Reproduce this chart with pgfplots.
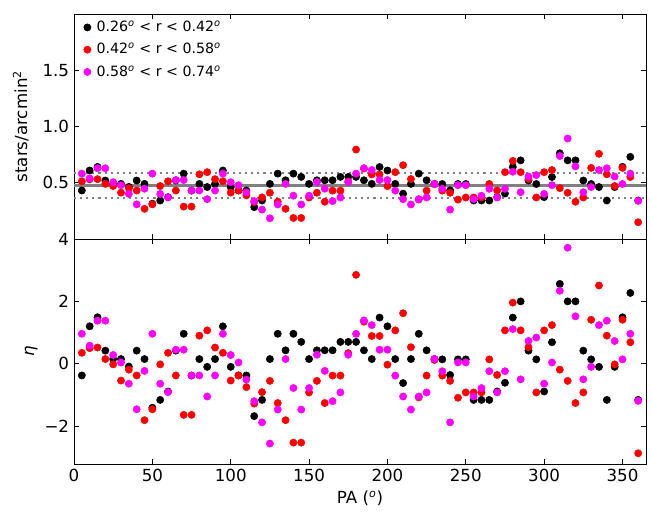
\documentclass[border=0pt]{standalone}
\usepackage{fontspec}
\setmainfont{DejaVu Sans}
\usepackage{pgfplots}
\pgfplotsset{compat=1.18}
\usepackage{pgfplotstable}
\definecolor{mgray}{RGB}{128,128,128}
\definecolor{mmag}{RGB}{255,0,255}
\definecolor{mred}{RGB}{255,0,0}
\pgfplotstableread{
pa eb er em db dr dm
5 -0.375 0.35 0.96 0.431 0.513 0.581
10 1.2 0.5 0.58 0.609 0.530 0.539
15 1.49 0.52 1.38 0.641 0.532 0.629
20 0.42 0.15 1.38 0.520 0.490 0.629
25 0.15 -0.02 0.28 0.490 0.471 0.505
30 0.15 -0.54 0.04 0.490 0.412 0.478
35 -0.09 -0.19 -0.64 0.463 0.452 0.401
40 0.42 -0.375 -1.46 0.520 0.431 0.308
45 0.15 -1.81 -0.23 0.490 0.268 0.447
50 -1.41 -1.46 0.96 0.314 0.308 0.581
55 -1.16 -0.02 -0.64 0.342 0.471 0.401
60 -0.89 0.35 -0.91 0.372 0.513 0.370
65 0.42 -0.375 0.45 0.520 0.431 0.524
70 0.96 -1.64 0.45 0.581 0.288 0.524
75 -0.38 -1.64 -0.375 0.430 0.288 0.431
80 0.15 0.9 -0.375 0.490 0.575 0.431
85 -0.1 1.07 -1.05 0.462 0.594 0.354
90 0.15 0.52 -0.375 0.490 0.532 0.431
95 1.2 0.35 0.96 0.609 0.513 0.581
100 -0.1 -0.54 0.28 0.462 0.412 0.505
105 -0.375 -0.375 0.04 0.431 0.431 0.478
110 -0.375 -0.75 -0.51 0.431 0.388 0.415
115 -1.68 -1.28 -1.2 0.283 0.328 0.337
120 -1.16 -0.91 -1.88 0.342 0.370 0.261
125 0.15 -0.55 -2.56 0.490 0.411 0.184
130 0.96 -1.26 -1.47 0.581 0.331 0.307
135 0.43 -1.81 0.15 0.522 0.268 0.490
140 0.96 -2.53 -0.78 0.581 0.187 0.385
145 0.7 -2.53 -1.47 0.552 0.187 0.307
150 0.15 -0.92 -0.78 0.490 0.369 0.385
155 0.43 -0.55 0.29 0.522 0.411 0.506
160 0.43 -1.26 -0.23 0.522 0.331 0.447
165 0.43 -0.38 -1.2 0.522 0.430 0.337
170 0.7 -0.38 -0.92 0.552 0.430 0.369
175 0.7 0.34 0.29 0.552 0.511 0.506
180 0.7 2.85 0.96 0.552 0.795 0.581
185 0.43 1.35 1.39 0.522 0.626 0.630
190 0.15 0.89 1.24 0.490 0.574 0.613
195 1.48 0.89 0.45 0.640 0.574 0.524
200 1.2 -0.03 0.45 0.609 0.470 0.524
205 0.15 1.07 -0.38 0.490 0.594 0.430
210 -0.62 1.62 -1.05 0.403 0.656 0.354
215 0.15 0.53 -1.47 0.490 0.533 0.307
220 0.96 -1.08 -1.05 0.581 0.351 0.354
225 0.43 -0.38 -0.92 0.522 0.430 0.369
230 0.15 0.12 0.15 0.490 0.487 0.490
235 0.14 -0.38 -0.24 0.489 0.430 0.446
240 -0.36 -0.55 -1.88 0.432 0.411 0.261
245 0.14 -1.09 0.04 0.489 0.350 0.478
250 0.14 -0.92 0.04 0.489 0.369 0.478
255 -1.16 -0.92 -1.05 0.342 0.369 0.354
260 -1.16 -0.92 -0.78 0.342 0.369 0.385
265 -1.16 0.14 -0.24 0.342 0.489 0.446
270 -0.89 -0.36 -0.92 0.372 0.432 0.369
275 -0.61 1.07 -0.24 0.404 0.594 0.446
280 1.48 1.96 1.11 0.640 0.694 0.598
285 2.0 1.07 -0.5 0.699 0.594 0.416
290 0.42 0.53 0.73 0.520 0.533 0.555
295 0.14 -0.92 0.84 0.489 0.369 0.568
300 -0.89 1.07 -0.64 0.372 0.594 0.401
305 0.69 1.24 0.04 0.551 0.613 0.478
310 2.56 -0.19 2.34 0.762 0.452 0.737
315 2.0 -0.55 3.72 0.699 0.411 0.893
320 2.0 -1.26 1.52 0.699 0.331 0.645
325 0.42 -0.92 -0.5 0.520 0.369 0.416
330 0.14 1.41 -0.1 0.489 0.632 0.462
335 -0.1 2.51 1.24 0.462 0.757 0.613
340 -1.16 0.9 1.38 0.342 0.575 0.629
345 -0.1 -0.02 0.73 0.462 0.471 0.555
350 1.49 1.41 0.14 0.641 0.632 0.489
355 2.27 0.69 0.96 0.730 0.551 0.581
360 -1.16 -2.87 -1.19 0.342 0.149 0.339
}\data
\begin{document}
\begin{tikzpicture}[font=\fontsize{12}{14.4}\selectfont]
\pgfplotsset{
  panel/.style={
    scale only axis, width=411.84pt, height=162pt,
    xmin=0, xmax=365, xtick={0,50,...,350},
    tick align=inside, xtick pos=both, ytick pos=both,
    major tick length=3.6pt,
    tick style={black, line width=0.6pt},
    axis line style={line width=0.6pt},
    /pgf/number format/assume math mode=true,
    tick label style={font=\fontsize{12}{14.4}\selectfont},
    label style={font=\fontsize{12}{14.4}\selectfont},
  },
  bk/.style={only marks, color=black, mark=*, mark size=2.6pt, mark options={draw=none, fill=black}},
  rd/.style={only marks, color=mred, mark=*, mark size=2.6pt, mark options={draw=none, fill=mred}},
  mg/.style={only marks, color=mmag, mark=*, mark size=2.6pt, mark options={draw=none, fill=mmag}},
}
% bottom panel
\begin{axis}[panel, at={(0,0)}, anchor=south west,
  ymin=-3.215, ymax=4, ytick={-2,0,2,4}, yticklabels={−2,0,2,4},
  xlabel={PA (\textsuperscript{\itshape o})}, ylabel={\itshape η},
  ylabel style={yshift=-1.8pt}]
\addplot[bk] table[x=pa, y=eb] {\data};
\addplot[rd] table[x=pa, y=er] {\data};
\addplot[mg] table[x=pa, y=em] {\data};
\end{axis}
% top panel
\begin{axis}[panel, at={(0,162pt)}, anchor=south west,
  ymin=0, ymax=2, ytick={0.5,1.0,1.5}, yticklabels={0.5,1.0,1.5},
  xticklabels={},
  ylabel={stars/arcmin\textsuperscript{2}},
  ylabel style={yshift=3.2pt},
  legend cell align=left,
  legend image code/.code={\draw[#1] plot coordinates {(0pt,0pt)}; \path (5pt,0pt);},
  legend style={at={(0.0166,0.979)}, anchor=north west, draw=none, fill=none,
    inner sep=0pt, row sep=3.9pt, nodes={inner sep=1.5pt},
    font=\fontsize{10.2}{12}\selectfont}]
\addplot[bk] table[x=pa, y=db] {\data};
\addlegendentry{0.26\textsuperscript{\itshape o} < r < 0.42\textsuperscript{\itshape o}}
\addplot[rd] table[x=pa, y=dr] {\data};
\addlegendentry{0.42\textsuperscript{\itshape o} < r < 0.58\textsuperscript{\itshape o}}
\addplot[mg] table[x=pa, y=dm] {\data};
\addlegendentry{0.58\textsuperscript{\itshape o} < r < 0.74\textsuperscript{\itshape o}}
\addplot[forget plot, mgray, line width=2.2pt] coordinates {(0,0.473) (365,0.473)};
\addplot[forget plot, mgray, line width=1.5pt, dash pattern=on 1.5pt off 2.9pt] coordinates {(0,0.584) (365,0.584)};
\addplot[forget plot, mgray, line width=1.5pt, dash pattern=on 1.5pt off 2.9pt] coordinates {(0,0.362) (365,0.362)};
\end{axis}
\pgfresetboundingbox
\path[use as bounding box] (-53.28pt,-35.28pt) rectangle (415.44pt,334.08pt);
\end{tikzpicture}
\end{document}
